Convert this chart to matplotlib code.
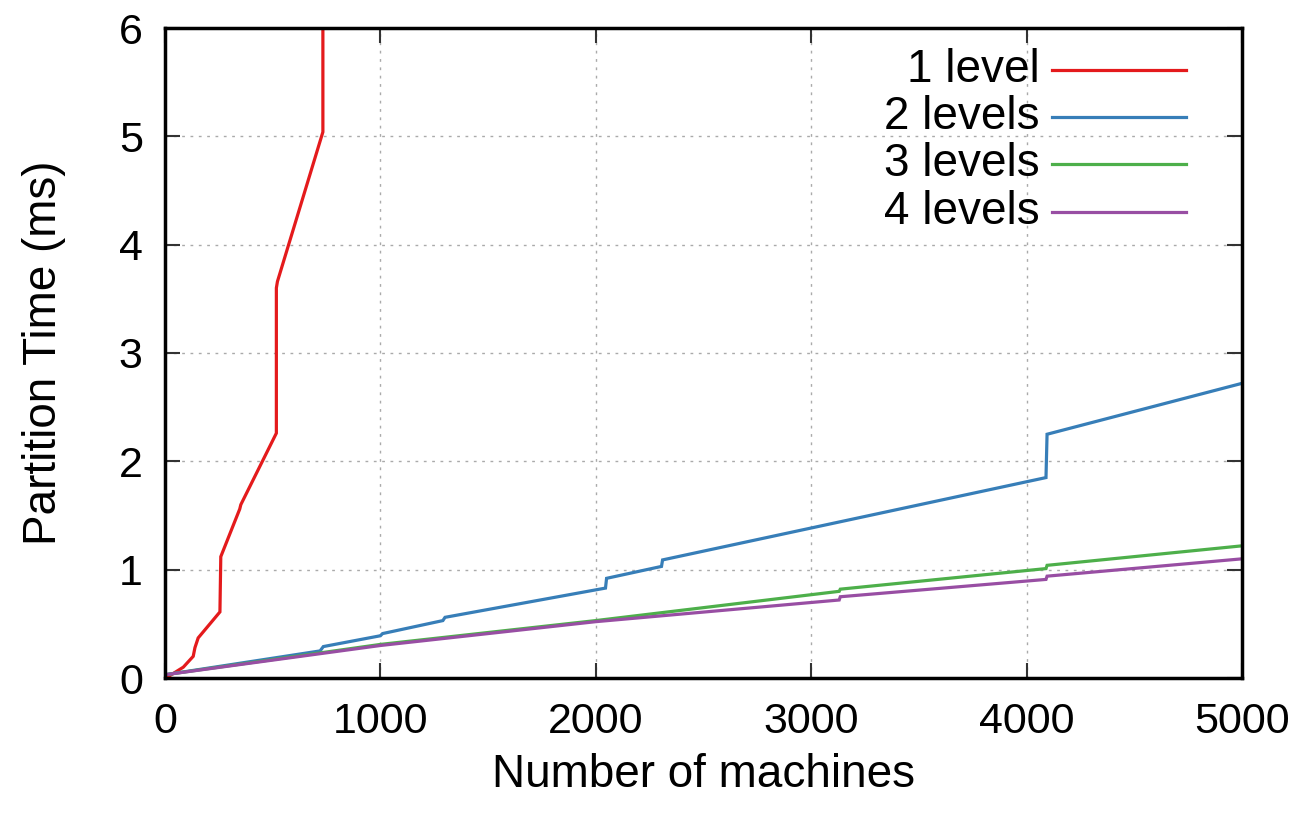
import matplotlib
matplotlib.use("Agg")
import matplotlib.pyplot as plt
from matplotlib.lines import Line2D

# ---- data ----
red_x = [5, 85, 131, 139, 154, 255, 259, 347, 352, 517, 517, 522, 733, 733]
red_y = [0.0, 0.10, 0.20, 0.28, 0.37, 0.61, 1.12, 1.56, 1.60, 2.26, 3.60, 3.66, 5.04, 6.5]

blue_x = [0, 720, 735, 1000, 1010, 1290, 1300, 2045, 2050, 2305, 2310, 4090, 4095, 5000]
blue_y = [0.03, 0.25, 0.29, 0.39, 0.41, 0.53, 0.56, 0.83, 0.92, 1.03, 1.09, 1.85, 2.25, 2.72]

green_x = [0, 1000, 2000, 3130, 3135, 4090, 4095, 5000]
green_y = [0.03, 0.31, 0.53, 0.80, 0.82, 1.01, 1.04, 1.22]

purple_x = [0, 1000, 2000, 3130, 3135, 4090, 4095, 5000]
purple_y = [0.03, 0.30, 0.52, 0.72, 0.75, 0.91, 0.94, 1.10]

labels = ["1 level", "2 levels", "3 levels", "4 levels"]
colors = ["#e41a1c", "#377eb8", "#4daf4a", "#984ea3"]
x_ticks = [0, 1000, 2000, 3000, 4000, 5000]
y_ticks = [0, 1, 2, 3, 4, 5, 6]

plt.rcParams['font.family'] = ['Liberation Sans', 'DejaVu Sans']

fig = plt.figure(figsize=(13.07, 8.17), dpi=100)
ax = fig.add_axes([165/1307, 1 - 678/817, 1077/1307, 650/817])

series = [(red_x, red_y), (blue_x, blue_y), (green_x, green_y), (purple_x, purple_y)]
for (xs, ys), c in zip(series, colors):
    ax.plot(xs, ys, color=c, lw=2.3, solid_joinstyle='miter')

ax.set_xlim(0, 5000)
ax.set_ylim(0, 6)
ax.set_xticks(x_ticks)
ax.set_yticks(y_ticks)
ax.tick_params(axis='both', which='major', direction='in', length=11, width=1.5,
               labelsize=31, top=True, right=True, color='#333333')
ax.tick_params(axis='x', pad=17)
ax.tick_params(axis='y', pad=16)
ax.grid(True, color='#aaaaaa', linestyle=(0, (2, 4)), linewidth=1.0)
for s in ax.spines.values():
    s.set_linewidth(2.5)
    s.set_color('black')

ax.set_xlabel("Number of machines", fontsize=33, labelpad=8)
ax.set_ylabel("Partition Time (ms)", fontsize=33, labelpad=38)

# legend (gnuplot style: right-aligned text, line sample to the right)
row_y = [70, 117, 164, 212]
for lab, c, py in zip(labels, colors, row_y):
    yf = (678 - py) / 650
    ax.text((1040 - 165) / 1077, yf, lab, transform=ax.transAxes, ha='right', va='center',
            fontsize=33)
    ax.add_line(Line2D([(1052 - 165) / 1077, (1186 - 165) / 1077], [yf, yf],
                       transform=ax.transAxes, color=c, lw=2.3))

fig.savefig("out.png", dpi=100)
